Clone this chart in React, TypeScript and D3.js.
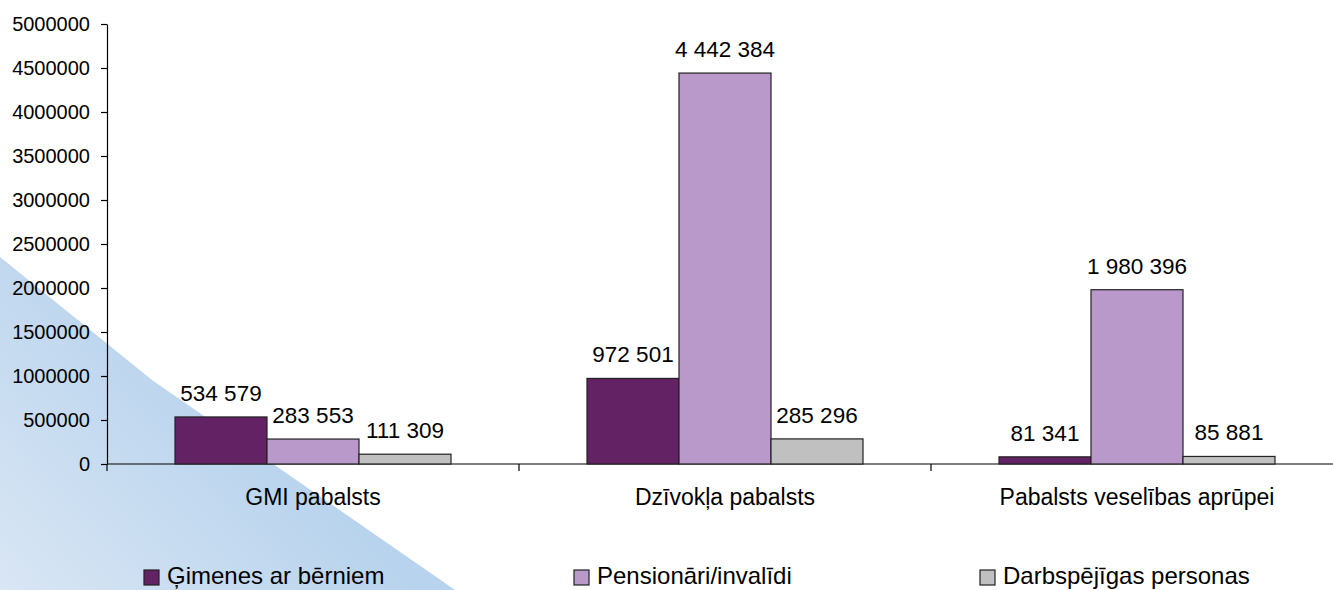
import * as d3 from "d3";
import { useEffect, useRef } from "react";

const categories = ["GMI pabalsts", "Dzīvokļa pabalsts", "Pabalsts veselības aprūpei"];
const series = ["Ģimenes ar bērniem", "Pensionāri/invalīdi", "Darbspējīgas personas"];
const colors = ["#632263", "#b899c9", "#c0c0c0"];
const familyValues = [534579, 972501, 81341];
const pensionerValues = [283553, 4442384, 1980396];
const ableValues = [111309, 285296, 85881];
const yTicks = [0, 500000, 1000000, 1500000, 2000000, 2500000, 3000000, 3500000, 4000000, 4500000, 5000000];

const WIDTH = 1333;
const HEIGHT = 590;
const FONT = "'Liberation Sans', Arial, sans-serif";

export default function App() {
  const svgRef = useRef<SVGSVGElement>(null);

  useEffect(() => {
    if (!svgRef.current) return;
    const svg = d3.select(svgRef.current);
    svg.selectAll("*").remove();

    const seriesValues = [familyValues, pensionerValues, ableValues];
    const rows = categories.map((c, i) => ({
      category: c,
      values: series.map((s, j) => ({ key: s, value: seriesValues[j][i], color: colors[j] })),
    }));

    const fmt = d3.formatLocale({ decimal: ",", thousands: " ", grouping: [3], currency: ["", ""] }).format(",d");

    // blue triangle in the background
    const defs = svg.append("defs");
    const grad = defs
      .append("linearGradient")
      .attr("id", "bg-grad")
      .attr("gradientUnits", "userSpaceOnUse")
      .attr("x1", 220)
      .attr("y1", 380)
      .attr("x2", 0)
      .attr("y2", 590);
    grad.append("stop").attr("offset", "0%").attr("stop-color", "#b8d3ed");
    grad.append("stop").attr("offset", "100%").attr("stop-color", "#d9e6f4");

    svg
      .append("path")
      .attr("d", "M0,257 L152,380 L455,590 L0,590 Z")
      .attr("fill", "url(#bg-grad)");

    const x0 = d3.scaleBand().domain(categories).range([107, 1343]).padding(0);
    const x1 = d3
      .scaleBand()
      .domain(series)
      .range([68, x0.bandwidth() - 68])
      .padding(0);
    const y = d3.scaleLinear().domain([0, 5000000]).range([464, 24]);

    // y axis
    const yAxis = svg
      .append("g")
      .attr("transform", "translate(107,0)")
      .call(d3.axisLeft(y).tickValues(yTicks).tickFormat(d3.format("d")).tickSize(6).tickSizeOuter(0).tickPadding(11));
    yAxis.select(".domain").attr("stroke", "#000").attr("stroke-width", 1.2);
    yAxis.selectAll(".tick line").attr("stroke", "#000").attr("stroke-width", 1.2);
    yAxis
      .selectAll(".tick text")
      .attr("fill", "#000")
      .style("font-family", FONT)
      .style("font-size", "20px");

    // x axis line and category separators
    svg
      .append("line")
      .attr("x1", 107)
      .attr("x2", WIDTH)
      .attr("y1", y(0))
      .attr("y2", y(0))
      .attr("stroke", "#000")
      .attr("stroke-width", 1.2);
    svg
      .selectAll(".sep")
      .data(categories)
      .enter()
      .append("line")
      .attr("x1", (d) => x0(d)!)
      .attr("x2", (d) => x0(d)!)
      .attr("y1", y(0))
      .attr("y2", y(0) + 7)
      .attr("stroke", "#000")
      .attr("stroke-width", 1.2);

    // bars
    const groups = svg
      .selectAll(".group")
      .data(rows)
      .enter()
      .append("g")
      .attr("transform", (d) => `translate(${x0(d.category)},0)`);

    groups
      .selectAll("rect")
      .data((d) => d.values)
      .enter()
      .append("rect")
      .attr("x", (d) => x1(d.key)!)
      .attr("y", (d) => y(d.value))
      .attr("width", x1.bandwidth())
      .attr("height", (d) => y(0) - y(d.value))
      .attr("fill", (d) => d.color)
      .attr("stroke", "#222")
      .attr("stroke-width", 1.2);

    groups
      .selectAll(".val")
      .data((d) => d.values)
      .enter()
      .append("text")
      .attr("x", (d) => x1(d.key)! + x1.bandwidth() / 2)
      .attr("y", (d) => y(d.value) - 16)
      .attr("text-anchor", "middle")
      .style("font-family", FONT)
      .style("font-size", "22.5px")
      .attr("fill", "#000")
      .text((d) => fmt(d.value));

    // category labels
    svg
      .selectAll(".cat")
      .data(categories)
      .enter()
      .append("text")
      .attr("x", (d) => x0(d)! + x0.bandwidth() / 2)
      .attr("y", 505)
      .attr("text-anchor", "middle")
      .style("font-family", FONT)
      .style("font-size", "23px")
      .attr("fill", "#000")
      .text((d) => d);

    // legend
    const legendX = [144, 574, 980];
    const legend = svg
      .selectAll(".legend")
      .data(series)
      .enter()
      .append("g")
      .attr("transform", (d, i) => `translate(${legendX[i]},570)`);
    legend
      .append("rect")
      .attr("width", 15)
      .attr("height", 15)
      .attr("fill", (d, i) => colors[i])
      .attr("stroke", "#222")
      .attr("stroke-width", 1.2);
    legend
      .append("text")
      .attr("x", 23)
      .attr("y", 14)
      .style("font-family", FONT)
      .style("font-size", "24px")
      .attr("fill", "#000")
      .text((d) => d);
  }, []);

  return (
    <svg
      ref={svgRef}
      width={WIDTH}
      height={HEIGHT}
      style={{ position: "absolute", left: 0, top: 0, background: "#fff" }}
    />
  );
}
